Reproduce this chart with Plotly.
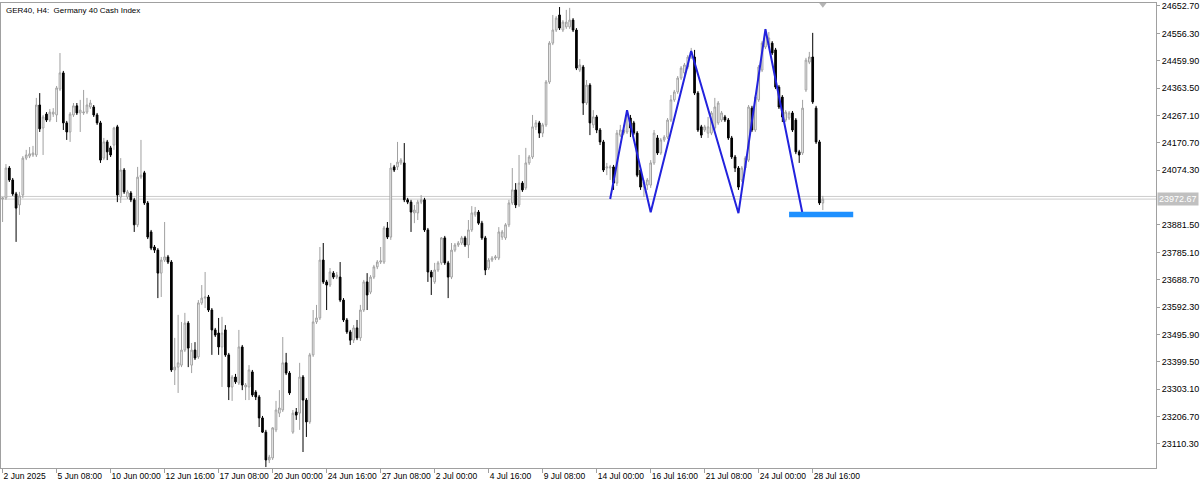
import plotly.graph_objects as go

# ---- data (GER40, H4) ----
opens = [23973,23977,24082,24040,23991,23952,23987,24117,24124,24128,24128,24304,24223,24272,24251,24272,24269,24360,24417,24241,
24209,24269,24301,24276,24276,24279,24297,24297,24269,24241,24117,24174,24153,24163,24227,23980,24075,23980,23994,23970,
23882,24050,24065,23959,23857,23804,23793,23712,23758,23769,23751,23371,23381,23388,23441,23536,23388,23441,23417,23607,
23624,23628,23582,23512,23501,23452,23512,23424,23311,23346,23325,23452,23311,23311,23364,23293,23276,23202,23152,23054,
23061,23160,23219,23230,23396,23360,23152,23223,23219,23346,23265,23188,23424,23540,23554,23758,23681,23670,23712,23698,
23698,23617,23547,23505,23476,23519,23484,23582,23681,23645,23698,23734,23751,23751,23871,23839,24086,24086,24100,24100,
23970,23962,23924,23924,23962,23970,23864,23716,23681,23723,23748,23836,23748,23698,23793,23811,23818,23836,23811,23864,
23917,23927,23888,23836,23730,23758,23765,23765,23839,23836,23882,23959,24005,23952,24029,24012,24100,24121,24227,24241,
24205,24234,24385,24522,24568,24621,24568,24579,24579,24603,24568,24427,24438,24311,24374,24234,24262,24216,24174,24082,
24082,24086,24029,24198,24205,24209,24258,24241,24205,24075,24015,24022,24022,24100,24188,24135,24181,24191,24251,24322,
24350,24399,24417,24438,24473,24473,24346,24227,24216,24205,24205,24223,24241,24251,24262,24251,24188,24121,24082,24040,
24082,24110,24293,24216,24322,24427,24508,24515,24522,24498,24367,24332,24251,24258,24276,24251,24139,24135,24357,24455,
24473,24293,24174,23959]
highs = [23980,24096,24089,24047,23998,23998,24124,24146,24156,24160,24329,24346,24269,24279,24290,24293,24371,24487,24424,24248,
24279,24311,24311,24322,24357,24329,24322,24304,24276,24248,24188,24181,24160,24227,24234,24117,24082,24005,24001,23977,
24086,24181,24072,23966,23864,23811,23800,23769,23892,23776,23758,23484,23565,23540,23572,23543,23466,23469,23617,23670,
23716,23635,23589,23519,23554,23558,23529,23431,23353,23357,23512,23459,23325,23388,23371,23300,23283,23209,23160,23072,
23170,23262,23300,23487,23431,23367,23230,23237,23396,23353,23272,23431,23582,23600,23804,23818,23688,23730,23719,23716,
23751,23624,23554,23512,23529,23547,23600,23688,23712,23705,23741,23758,23804,23878,23892,24100,24093,24174,24117,24170,
23977,23970,23952,23970,23987,23977,23871,23723,23748,23755,23839,23843,23755,23818,23818,23825,23843,23843,23899,23948,
23945,23934,23896,23843,23765,23772,23776,23874,23864,23888,23970,24082,24029,24128,24036,24153,24128,24269,24251,24248,
24241,24392,24529,24621,24617,24649,24603,24639,24646,24610,24575,24466,24445,24392,24381,24286,24269,24223,24181,24100,
24093,24093,24216,24234,24234,24286,24269,24248,24212,24082,24040,24047,24110,24216,24198,24188,24198,24258,24339,24357,
24406,24441,24452,24480,24505,24498,24353,24234,24234,24262,24283,24329,24318,24283,24269,24258,24195,24128,24089,24089,
24124,24304,24301,24339,24445,24529,24572,24561,24529,24505,24374,24339,24286,24283,24283,24258,24146,24322,24470,24491,
24558,24301,24181,23984]
lows = [23892,23970,24033,23984,23822,23917,23976,24110,24117,24121,24121,24209,24128,24244,24244,24262,24244,24353,24216,24181,
24174,24262,24269,24209,24269,24272,24290,24262,24234,24100,24110,24110,24121,24146,23962,23959,23991,23973,23962,23857,
23874,24043,23952,23832,23793,23783,23624,23628,23751,23744,23364,23318,23290,23381,23434,23381,23360,23406,23410,23600,
23589,23575,23424,23487,23424,23311,23417,23265,23262,23322,23318,23300,23265,23265,23276,23265,23170,23149,23029,23043,
23054,23152,23205,23223,23353,23283,23146,23195,23160,23082,23135,23181,23417,23533,23547,23674,23582,23663,23691,23691,
23610,23540,23498,23459,23466,23476,23473,23575,23582,23638,23691,23726,23744,23744,23832,23829,24068,24075,24093,23962,
23955,23857,23888,23899,23955,23857,23681,23635,23674,23716,23741,23741,23624,23691,23786,23804,23811,23804,23765,23857,
23910,23882,23829,23705,23723,23751,23758,23758,23829,23829,23874,23952,23941,23945,23998,24005,24093,24114,24216,24188,
24191,24227,24378,24515,24561,24568,24561,24572,24572,24561,24427,24420,24269,24304,24198,24223,24205,24163,24068,24057,
24040,24005,24019,24191,24198,24202,24191,24198,24050,24005,23980,24005,24012,24093,24128,24128,24174,24184,24244,24315,
24343,24392,24410,24431,24466,24339,24209,24188,24209,24188,24198,24216,24234,24244,24244,24181,24114,24068,24005,24033,
24075,24103,24209,24209,24315,24420,24501,24508,24480,24360,24290,24244,24244,24251,24209,24131,24100,24128,24350,24448,
24308,24167,23952,23934]
closes = [23977,24082,24040,23991,23941,23984,24117,24128,24132,24135,24304,24220,24262,24251,24279,24279,24364,24417,24241,24209,
24272,24301,24276,24286,24279,24304,24311,24269,24241,24110,24174,24139,24128,24223,23987,24075,23998,23998,23970,23882,
24050,24057,23959,23839,23800,23793,23712,23758,23769,23751,23371,23381,23396,23441,23536,23448,23441,23413,23607,23624,
23628,23582,23512,23494,23452,23501,23424,23311,23346,23329,23452,23318,23318,23371,23283,23276,23202,23152,23054,23064,
23167,23230,23237,23396,23360,23290,23219,23212,23346,23265,23188,23424,23540,23554,23758,23681,23670,23716,23698,23705,
23617,23547,23505,23476,23519,23484,23582,23681,23635,23698,23734,23751,23755,23871,23839,24082,24075,24103,24110,23970,
23962,23927,23934,23962,23970,23864,23716,23698,23723,23748,23836,23748,23698,23793,23811,23818,23836,23811,23864,23924,
23927,23888,23836,23723,23758,23765,23769,23857,23857,23882,23959,24005,23952,24029,24005,24100,24121,24227,24241,24205,
24234,24385,24522,24568,24610,24575,24596,24596,24603,24568,24434,24445,24311,24374,24241,24262,24216,24174,24075,24086,
24086,24029,24205,24216,24216,24269,24223,24205,24057,24015,24033,24040,24100,24205,24135,24181,24191,24251,24322,24350,
24399,24434,24445,24473,24491,24346,24216,24198,24227,24227,24276,24297,24311,24276,24251,24188,24121,24082,24015,24082,
24117,24297,24216,24332,24438,24522,24558,24540,24487,24367,24297,24262,24279,24276,24216,24139,24128,24293,24462,24473,
24315,24174,23959,23972.67]

x_labels = ["2 Jun 2025", "5 Jun 08:00", "10 Jun 00:00", "12 Jun 16:00", "17 Jun 08:00", "20 Jun 00:00",
            "24 Jun 16:00", "27 Jun 08:00", "2 Jul 00:00", "4 Jul 16:00", "9 Jul 08:00", "14 Jul 00:00",
            "16 Jul 16:00", "21 Jul 08:00", "24 Jul 00:00", "28 Jul 16:00"]
x_label_bars = [0, 16, 32, 48, 64, 80, 96, 112, 128, 144, 160, 176, 192, 208, 224, 240]

price_ticks = [24652.70, 24556.30, 24459.90, 24363.50, 24267.10, 24170.70, 24074.30, 23881.50,
               23785.10, 23688.70, 23592.30, 23495.90, 23399.50, 23303.10, 23206.70, 23110.30]

zigzag_bars = [180, 185, 192, 204, 218, 226, 237]
zigzag_prices = [23973, 24286, 23926, 24494, 23923, 24571, 23920]

zone_bars = [233, 252]
zone_prices = [23909, 23928]

bid_price = 23972.67
ask_price = 23982.0

title_text = "GER40, H4:\u00a0 Germany 40 Cash Index"

# ---- figure ----
bars = list(range(len(closes)))

fig = go.Figure()
fig.add_trace(go.Candlestick(
    x=bars, open=opens, high=highs, low=lows, close=closes,
    increasing=dict(line=dict(color="#a0a0a0", width=1), fillcolor="white"),
    decreasing=dict(line=dict(color="black", width=1), fillcolor="black"),
    whiskerwidth=0, hoverinfo="skip", showlegend=False,
))

fig.add_trace(go.Scatter(
    x=zigzag_bars, y=zigzag_prices, mode="lines",
    line=dict(color="#2222dd", width=2), hoverinfo="skip", showlegend=False,
))

# chart-shift marker at the top
fig.add_trace(go.Scatter(
    x=[bars[-1]], y=[24659.0], mode="markers",
    marker=dict(symbol="triangle-down", size=7, color="#b4b4b4"),
    cliponaxis=False, hoverinfo="skip", showlegend=False,
))

shapes = [
    dict(type="line", xref="paper", x0=0, x1=1, yref="y", y0=ask_price, y1=ask_price,
         line=dict(color="#cccccc", width=1), layer="below"),
    dict(type="line", xref="paper", x0=0, x1=1, yref="y", y0=bid_price, y1=bid_price,
         line=dict(color="#cccccc", width=1), layer="below"),
    dict(type="rect", xref="x", yref="y", x0=zone_bars[0], x1=zone_bars[1],
         y0=zone_prices[0], y1=zone_prices[1], fillcolor="#1e90ff", line=dict(width=0), layer="above"),
]

annotations = [
    dict(text=title_text, xref="paper", yref="paper", x=0, y=1, xanchor="left", yanchor="top",
         xshift=3, yshift=-1, showarrow=False, font=dict(size=8, color="black")),
    dict(text=f"{bid_price:.2f}", xref="paper", yref="y", x=1, y=bid_price, xanchor="left", yanchor="middle",
         xshift=1, showarrow=False, bgcolor="#c0c0c0", font=dict(size=9, color="white"), borderpad=1),
]

fig.update_layout(
    width=1200, height=483,
    margin=dict(l=1, r=44, t=3, b=15, autoexpand=False),
    paper_bgcolor="white", plot_bgcolor="white",
    showlegend=False,
    font=dict(family="Liberation Sans, Arial, sans-serif", size=9, color="black"),
    shapes=shapes, annotations=annotations,
    xaxis=dict(
        range=[-0.47, 341.7], rangeslider=dict(visible=False), showgrid=False, zeroline=False,
        tickmode="array", tickvals=x_label_bars, ticktext=x_labels, tickangle=0, automargin=False,
        ticks="outside", ticklen=4, tickcolor="#a0a0a0", ticklabelposition="outside right",
        showline=True, linecolor="#a0a0a0", linewidth=1, mirror=True,
        tickfont=dict(size=8.5, color="black"),
    ),
    yaxis=dict(
        range=[23025.7, 24663.2], side="right", showgrid=False, zeroline=False, automargin=False,
        tickmode="array", tickvals=price_ticks, ticktext=[f"{v:.2f}" for v in price_ticks],
        ticks="outside", ticklen=3, tickcolor="#a0a0a0",
        showline=True, linecolor="#a0a0a0", linewidth=1, mirror=True,
        tickfont=dict(size=9, color="black"),
    ),
)

fig.write_html("out.html", config={"displayModeBar": False},
               post_script="document.body.style.margin='0';")
